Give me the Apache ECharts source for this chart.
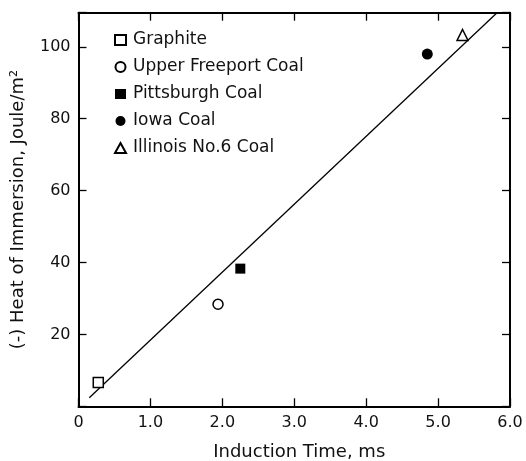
<!DOCTYPE html>
<html><head><meta charset="utf-8">
<script src="https://cdn.jsdelivr.net/npm/echarts@6/dist/echarts.min.js"></script>
<style>html,body{margin:0;padding:0;background:#fff}#c{width:526px;height:461px}</style>
</head><body><div id="c"></div>
<script>
var seriesNames = ['Graphite','Upper Freeport Coal','Pittsburgh Coal','Iowa Coal','Illinois No.6 Coal'];
var graphite = [[0.275, 6.6]];
var upperFreeport = [[1.94, 28.4]];
var pittsburgh = [[2.25, 38.3]];
var iowa = [[4.85, 98.0]];
var illinois = [[5.34, 103.3]];
var fitLine = [[0.15, 2.4], [5.82, 109.5]];
var xTicks = ['0','1.0','2.0','3.0','4.0','5.0','6.0'];
var yTicks = [20,40,60,80,100];

var FONT = 'DejaVu Sans';
var chart = echarts.init(document.getElementById('c'), null, {renderer:'canvas'});
var axLine = {show:true, onZero:false, lineStyle:{color:'#000', width:2}};
var tickIn = {show:true, inside:true, length:8, lineStyle:{color:'#000', width:1.3}};
function hollow(sym, size){ return {type:'scatter', symbol:sym, symbolSize:size,
  itemStyle:{color:'#fff', borderColor:'#000', borderWidth:1.5, opacity:1}}; }
function filled(sym, size){ return {type:'scatter', symbol:sym, symbolSize:size,
  itemStyle:{color:'#000', borderColor:'#000', borderWidth:0, opacity:1}}; }
var s = [
  Object.assign(hollow('rect', 10), {name:seriesNames[0], data:graphite}),
  Object.assign(hollow('circle', 10), {name:seriesNames[1], data:upperFreeport}),
  Object.assign(filled('rect', 10), {name:seriesNames[2], data:pittsburgh}),
  Object.assign(filled('circle', 11), {name:seriesNames[3], data:iowa}),
  Object.assign(hollow('triangle', 11), {name:seriesNames[4], data:illinois}),
  {type:'line', name:'fit', data:fitLine, showSymbol:false, symbol:'none', z:1,
   lineStyle:{color:'#000', width:1.3}, animation:false}
];
chart.setOption({
  animation:false,
  backgroundColor:'#fff',
  textStyle:{fontFamily:FONT, color:'#111'},
  grid:{left:78.5, right:16, top:12.7, bottom:54.7, containLabel:false, outerBoundsMode:'none'},
  legend:{show:true, data:seriesNames, orient:'vertical', left:109, top:25, itemGap:7,
    itemWidth:11, itemHeight:10,
    textStyle:{fontFamily:FONT, fontSize:17, color:'#111', lineHeight:20, padding:[0,0,0,2]}},
  xAxis:[{type:'value', min:0, max:6, interval:1,
    axisLine:axLine, axisTick:tickIn, splitLine:{show:false},
    axisLabel:{fontFamily:FONT, fontSize:16, color:'#111', margin:9,
      formatter:function(v){ var i=Math.round(v); return Math.abs(v-i)<1e-6 ? xTicks[i] : ''; }},
    name:'Induction Time, ms', nameLocation:'middle', nameGap:37,
    nameTextStyle:{fontFamily:FONT, fontSize:18, color:'#111', padding:[0,0,0,10]}},
   {type:'value', position:'top', min:0, max:6, interval:1,
    axisLine:axLine, axisTick:tickIn, axisLabel:{show:false}, splitLine:{show:false}}],
  yAxis:[{type:'value', min:0, max:109.5, interval:20,
    axisLine:axLine, axisTick:tickIn, splitLine:{show:false},
    axisLabel:{fontFamily:FONT, fontSize:16, color:'#111', margin:8,
      formatter:function(v){ return yTicks.indexOf(Math.round(v))>=0 && Math.abs(v-Math.round(v))<1e-6 ? String(Math.round(v)) : ''; }},
    name:'(-) Heat of Immersion, Joule/m²', nameLocation:'middle', nameGap:51, nameRotate:90,
    nameTextStyle:{fontFamily:FONT, fontSize:18, color:'#111'}},
   {type:'value', position:'right', min:0, max:109.5, interval:20,
    axisLine:axLine, axisTick:tickIn, axisLabel:{show:false}, splitLine:{show:false}}],
  series:s
});
</script></body></html>
